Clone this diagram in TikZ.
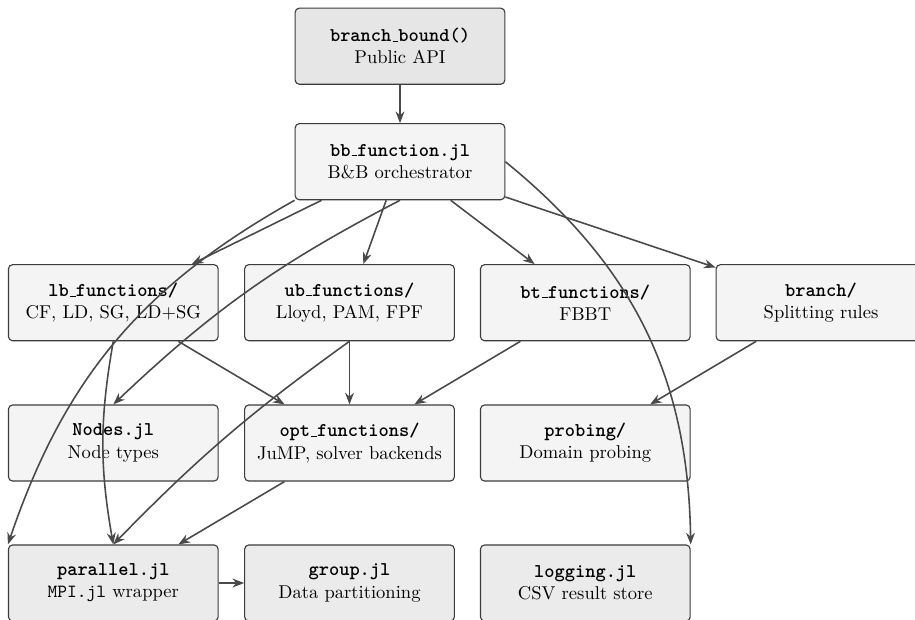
\documentclass[tikz,border=0pt]{standalone}
\usetikzlibrary{arrows.meta}
\definecolor{edgec}{HTML}{4A4A4A}
\definecolor{boxline}{HTML}{3C3C3C}
\definecolor{fillA}{HTML}{E6E6E6}
\definecolor{fillB}{HTML}{F4F4F4}
\definecolor{fillC}{HTML}{EBEBEB}
\newcommand{\usc}{\leavevmode\kern.06em\vbox{\hrule width.3em height .5pt}}
\newcommand{\ttb}[1]{{\fontsize{10.5pt}{12pt}\selectfont\ttfamily\bfseries #1}}
\begin{document}
\begin{tikzpicture}[x=0.539pt,y=0.539pt,
  box/.style={draw=boxline, line width=0.6pt, rounded corners=2.2pt,
    minimum width=113pt, minimum height=41pt, align=center, inner sep=2pt},
  boxa/.style={box, fill=fillA},
  boxb/.style={box, fill=fillB},
  boxc/.style={box, fill=fillC},
  conn/.style={draw=edgec, line width=0.85pt, -{Stealth[length=6.3pt,width=4.8pt]}},
]
\useasboundingbox (0,0) rectangle (915,-619);
\clip (0,0) rectangle (915,-619);

\node[boxa] (api) at (400,-46.2) {\ttb{branch\usc bound()}\\Public API};
\node[boxb] (bb) at (400,-161.7) {\ttb{bb\usc function.jl}\\B\&B orchestrator};

\node[boxb] (lb) at (113.3,-302.7) {\ttb{lb\usc functions/}\\CF, LD, SG, LD+SG};
\node[boxb] (ub) at (349.5,-302.7) {\ttb{ub\usc functions/}\\Lloyd, PAM, FPF};
\node[boxb] (bt) at (585.3,-302.7) {\ttb{bt\usc functions/}\\FBBT};
\node[boxb] (br) at (821,-302.7) {\ttb{branch/}\\Splitting rules};

\node[boxb] (nodes) at (113.3,-443) {\ttb{Nodes.jl}\\Node types};
\node[boxb] (opt) at (349.5,-443) {\ttb{opt\usc functions/}\\JuMP, solver backends};
\node[boxb] (prob) at (585.3,-443) {\ttb{probing/}\\Domain probing};

\node[boxc] (par) at (113.3,-583) {\ttb{parallel.jl}\\\texttt{MPI.jl} wrapper};
\node[boxc] (grp) at (349.5,-583) {\ttb{group.jl}\\Data partitioning};
\node[boxc] (log) at (585.3,-583) {\ttb{logging.jl}\\CSV result store};

\draw[conn] (api) -- (bb);
\draw[conn] (bb) -- (lb);
\draw[conn] (bb) -- (ub);
\draw[conn] (bb) -- (bt);
\draw[conn] (bb) -- (br);
\draw[conn] (bb.east) to[bend left=25] (log.north east);
\draw[conn] (bb.south) to[bend right=8] (nodes.north);
\draw[conn] (bb.south west) to[bend right=21] (par.north west);
\draw[conn] (lb) -- (opt);
\draw[conn] (lb.south) to[bend right=10] (par.north);
\draw[conn] (ub) -- (opt);
\draw[conn] (ub.south) to[bend right=5] (par.north);
\draw[conn] (bt) -- (opt);
\draw[conn] (br) -- (prob);
\draw[conn] (opt) -- (par);
\draw[conn] (par) -- (grp);
\end{tikzpicture}
\end{document}
